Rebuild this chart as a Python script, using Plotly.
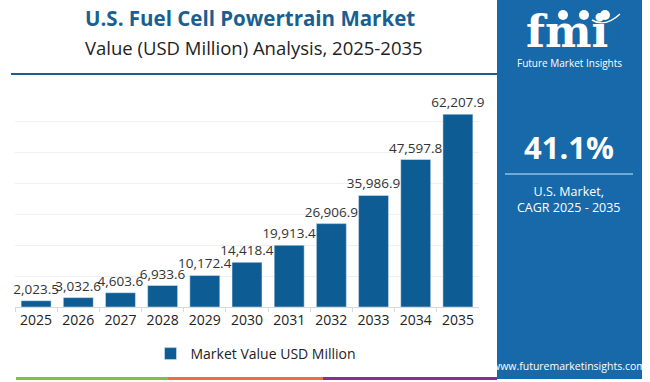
import plotly.graph_objects as go

years = ["2025", "2026", "2027", "2028", "2029", "2030", "2031", "2032", "2033", "2034", "2035"]
values = [2023.5, 3032.6, 4603.6, 6933.6, 10172.4, 14418.4, 19913.4, 26906.9, 35986.9, 47597.8, 62207.9]
series_name = "Market Value USD Million"
title_main = "U.S. Fuel Cell Powertrain Market"
title_sub = "Value (USD Million) Analysis, 2025-2035"
cagr_text = "41.1%"
cagr_label = "U.S. Market,<br>CAGR 2025 - 2035"

W, H = 650, 382
BAR = "#0d5c94"
PANEL = "#1769a9"

def px(x):
    return x / W

def py(y):
    return 1 - y / H

labels = [f"{v:,.1f}" for v in values]

fig = go.Figure()
fig.add_trace(go.Bar(
    x=years, y=values, name=series_name, marker_color=BAR,
    text=labels, textposition="outside", cliponaxis=False, textangle=0,
    constraintext="none",
    textfont=dict(family="Open Sans", size=13.5, color="#333333"),
    showlegend=True,
))

shapes = []
# right panel
shapes.append(dict(type="rect", xref="paper", yref="paper", x0=px(497), x1=px(642), y0=py(379), y1=py(0),
                   fillcolor=PANEL, line=dict(width=0), layer="below"))
# separator line
shapes.append(dict(type="line", xref="paper", yref="paper", x0=px(11), x1=px(497), y0=py(74), y1=py(74),
                   line=dict(color="#1a5f91", width=2)))
# panel divider
shapes.append(dict(type="line", xref="paper", yref="paper", x0=px(505), x1=px(633), y0=py(174), y1=py(174),
                   line=dict(color="#8fc0e6", width=1.5)))
# bottom stripe
for x0, x1, c in [(16, 168, "#7cc142"), (168, 323, "#f26b3a"), (323, 497, "#8b2c8f")]:
    shapes.append(dict(type="rect", xref="paper", yref="paper", x0=px(x0), x1=px(x1), y0=py(380), y1=py(377),
                       fillcolor=c, line=dict(width=0)))

# logo decoration: small globes and stripes
for cx in (563, 584, 605):
    shapes.append(dict(type="circle", xref="paper", yref="paper", x0=px(cx - 5), x1=px(cx + 5),
                       y0=py(20), y1=py(10), fillcolor="white", line=dict(width=0)))
shapes.append(dict(type="path", xref="paper", yref="paper",
                   path=f"M {px(592)},{py(20)} Q {px(605)},{py(28)} {px(620)},{py(14)}",
                   line=dict(color="white", width=1.5)))

annotations = [
    dict(text=f"<b>{title_main}</b>", x=px(250), y=py(18), xref="paper", yref="paper", showarrow=False,
         font=dict(family="Open Sans", size=20.5, color="#1a5f91"), xanchor="center", yanchor="middle"),
    dict(text=title_sub, x=px(254), y=py(47), xref="paper", yref="paper", showarrow=False,
         font=dict(family="Open Sans", size=18.5, color="#222222"), xanchor="center", yanchor="middle"),
    dict(text="<b>fmi</b>", x=px(567), y=py(31), xref="paper", yref="paper", showarrow=False,
         font=dict(family="DejaVu Serif", size=44, color="white"), xanchor="center", yanchor="middle"),
    dict(text="Future Market Insights", x=px(569), y=py(63), xref="paper", yref="paper", showarrow=False,
         font=dict(family="Open Sans", size=10, color="white"), xanchor="center", yanchor="middle"),
    dict(text=f"<b>{cagr_text}</b>", x=px(569), y=py(147), xref="paper", yref="paper", showarrow=False,
         font=dict(family="Open Sans", size=31, color="white"), xanchor="center", yanchor="middle"),
    dict(text=cagr_label, x=px(569), y=py(199), xref="paper", yref="paper", showarrow=False,
         font=dict(family="Open Sans", size=12.5, color="white"), xanchor="center", yanchor="middle"),
    dict(text="www.futuremarketinsights.com", x=px(569), y=py(366), xref="paper", yref="paper", showarrow=False,
         font=dict(family="Open Sans", size=10.5, color="white"), xanchor="center", yanchor="middle"),
]

# stripes across the logo letters (drawn above annotations via a layer trick: use shapes layer above)
for yy in range(24, 48, 3):
    shapes.append(dict(type="line", xref="paper", yref="paper", x0=px(518), x1=px(620), y0=py(yy), y1=py(yy),
                       line=dict(color=PANEL, width=0.8), layer="above"))

fig.update_layout(
    width=W, height=H, margin=dict(l=0, r=0, t=0, b=0),
    paper_bgcolor="white", plot_bgcolor="white",
    bargap=0.29, shapes=shapes, annotations=annotations,
    xaxis=dict(domain=[px(15), px(479)], showline=True, linecolor="#d9d9d9", ticks="outside",
               tickson="boundaries", ticklen=4, tickcolor="#d9d9d9", automargin=False, tickangle=0,
               tickfont=dict(family="Open Sans", size=14, color="#222222")),
    yaxis=dict(domain=[py(307), py(100)], range=[0, 66800], showticklabels=False,
               showgrid=True, gridcolor="#f0f0f0", dtick=10000, zeroline=False, automargin=False),
    legend=dict(orientation="h", x=px(256), y=py(354), xanchor="center", yanchor="middle",
                itemwidth=30, font=dict(family="Open Sans", size=14, color="#222222")),
)

fig.write_html("out.html", config={"displayModeBar": False},
               post_script="document.body.style.margin='0';document.body.style.overflow='hidden';")
